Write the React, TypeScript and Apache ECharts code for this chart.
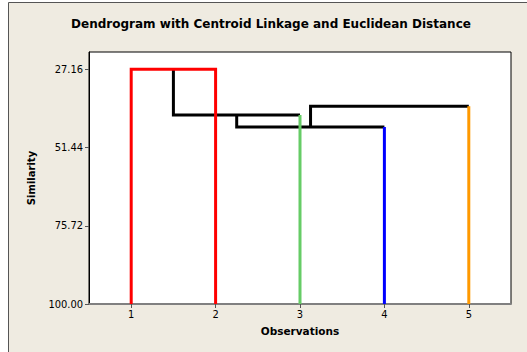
import React, { useEffect, useRef } from "react";
import * as echarts from "echarts";

const title = "Dendrogram with Centroid Linkage and Euclidean Distance";
const xTicks = [1, 2, 3, 4, 5];
const yTicks = [27.16, 51.44, 75.72, 100.0];

// dendrogram segments: [observation position, similarity]
const redCluster = [[1, 100], [1, 27.16], [2, 27.16], [2, 100]];
const joinA = [[1.5, 27.16], [1.5, 41.34], [3, 41.34]];
const greenLeg = [[3, 41.34], [3, 100]];
const joinB = [[2.25, 41.34], [2.25, 45.07], [4, 45.07]];
const blueLeg = [[4, 45.07], [4, 100]];
const joinC = [[3.125, 45.07], [3.125, 38.64], [5, 38.64]];
const orangeLeg = [[5, 38.64], [5, 100]];

const FONT = "DejaVu Sans";
const TICKFONT = "'DejaVu Sans Condensed', 'DejaVu Sans'";

export default function App() {
  const ref = useRef<HTMLDivElement>(null);
  useEffect(() => {
    document.body.style.margin = "0";
    const chart = echarts.init(ref.current!, null, { renderer: "svg" });
    const seg = (data: number[][], color: string, z = 2) => ({
      type: "line",
      data,
      symbol: "none",
      lineStyle: { color, width: 3, cap: "butt", join: "miter" },
      z,
      silent: true,
    });
    chart.setOption({
      animation: false,
      backgroundColor: "#ffffff",
      graphic: [
        {
          type: "rect",
          shape: { x: 8.5, y: 2.5, width: 530, height: 360 },
          style: { fill: "#EFEBE1", stroke: "#555555", lineWidth: 1 },
          z: -10,
          silent: true,
        },
      ],
      title: {
        text: title,
        left: 266,
        textAlign: "center",
        top: 13,
        textStyle: { fontFamily: FONT, fontSize: 12, fontWeight: "bold", color: "#000" },
      },
      grid: {
        left: 89,
        top: 52,
        width: 422,
        height: 252,
        show: true,
        backgroundColor: "#ffffff",
        borderColor: "#000000",
        borderWidth: 1,
      },
      xAxis: {
        type: "value",
        min: 0.5,
        max: 5.5,
        name: "Observations",
        nameLocation: "middle",
        nameGap: 21,
        nameTextStyle: { fontFamily: FONT, fontSize: 10.5, fontWeight: "bold", color: "#000" },
        axisLine: { show: true, lineStyle: { color: "#808080", width: 2 } },
        axisTick: { show: true, customValues: xTicks, length: 4, lineStyle: { color: "#555", width: 1 } },
        axisLabel: {
          customValues: xTicks,
          fontFamily: TICKFONT,
          fontSize: 11,
          color: "#000",
          margin: 5,
        },
        splitLine: { show: false },
      },
      yAxis: {
        type: "value",
        inverse: true,
        min: 21.8,
        max: 100,
        name: "Similarity",
        nameLocation: "middle",
        nameGap: 53,
        nameRotate: 90,
        nameTextStyle: { fontFamily: FONT, fontSize: 10, fontWeight: "bold", color: "#000" },
        axisLine: { show: true, lineStyle: { color: "#000", width: 1 } },
        axisTick: { show: true, customValues: yTicks, length: 4, lineStyle: { color: "#555", width: 1 } },
        axisLabel: {
          customValues: yTicks,
          formatter: (v: number) => v.toFixed(2),
          fontFamily: TICKFONT,
          fontSize: 11,
          color: "#000",
          margin: 6,
        },
        splitLine: { show: false },
      },
      series: [
        seg(joinA, "#000000"),
        seg(joinB, "#000000"),
        seg(joinC, "#000000"),
        seg(redCluster, "#FF0000", 3),
        seg(greenLeg, "#66CC66", 3),
        seg(blueLeg, "#0000FF", 3),
        seg(orangeLeg, "#FF9900", 3),
      ],
    });
    return () => chart.dispose();
  }, []);
  return <div ref={ref} style={{ width: 527, height: 352 }} />;
}
